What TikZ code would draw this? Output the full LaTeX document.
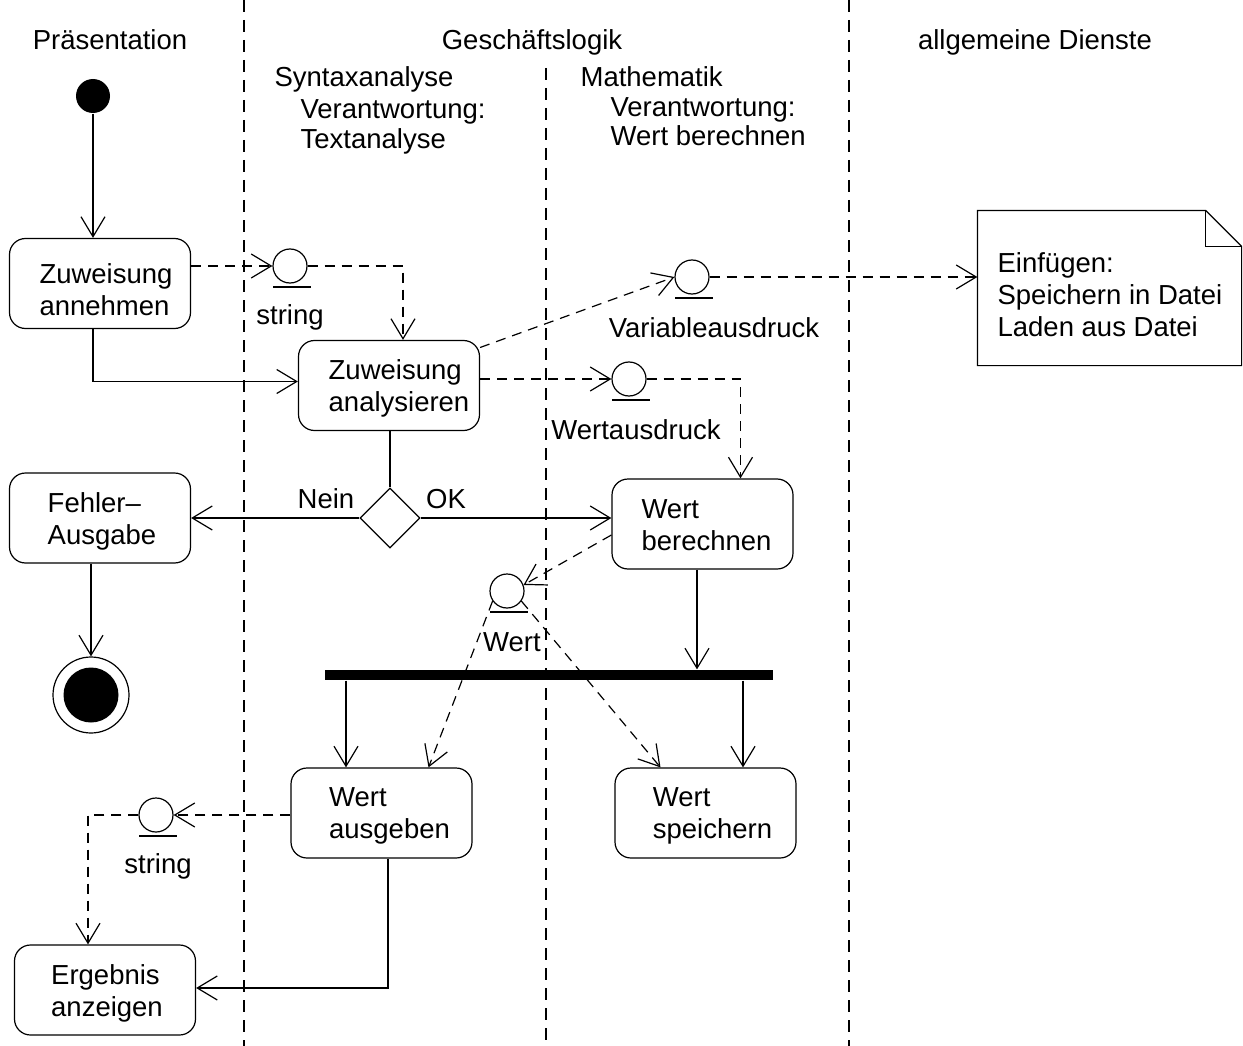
\documentclass[tikz,border=0pt]{standalone}
\usepackage{fontspec}
\setmainfont{Liberation Sans}
\usetikzlibrary{arrows.meta,calc,shapes.geometric}
\begin{document}
\begin{tikzpicture}[x=1pt,y=-1pt,
  font=\fontsize{27.5}{32}\selectfont,
  line width=1.2pt,
  tip/.style={-{Straight Barb[length=20pt,width=24pt,line width=1.2pt]}},
  dtip/.style={tip,dash pattern=on 10pt off 7pt},
  lane/.style={line width=1.1pt,dash pattern=on 12pt off 8pt},
  activity/.style={draw,rounded corners=16pt,minimum width=181pt,minimum height=90pt,inner sep=0pt},
  acttext/.style={align=left,inner sep=0pt},
  objnode/.style={draw,circle,minimum size=34pt,inner sep=0pt},
  txt/.style={inner sep=0pt}
]
\useasboundingbox (0,0) rectangle (1243,1046);

% swimlane separators
\draw[lane] (244,0) -- (244,1046);
\draw[lane] (546,68) -- (546,1046);
\draw[lane] (849,0) -- (849,1046);

% lane headings
\node[txt,anchor=base] (hpres) at (110,50) {Präsentation};
\node[txt,anchor=base] (hgesch) at (532,50) {Geschäftslogik};
\node[txt,anchor=base] (hdienst) at (1035,50) {allgemeine Dienste};
\node[txt,anchor=base west] (hsyn) at (274,87) {Syntaxanalyse};
\node[txt,anchor=base west] (hsyn2) at (300,119) {Verantwortung:};
\node[txt,anchor=base west] (hsyn3) at (300,149) {Textanalyse};
\node[txt,anchor=base west] (hmath) at (580,87) {Mathematik};
\node[txt,anchor=base west] (hmath2) at (610,117) {Verantwortung:};
\node[txt,anchor=base west] (hmath3) at (610,146) {Wert berechnen};

% initial and final nodes
\node[circle,fill=black,minimum size=34pt,inner sep=0pt] (start) at (93,96) {};
\node[circle,draw,minimum size=76pt,inner sep=0pt] (final) at (91,695) {};
\node[circle,fill=black,minimum size=55pt,inner sep=0pt] (finalin) at (91,695) {};

% activities (text block set slightly right of the box centre)
\node[activity,label={[acttext,xshift=6pt,yshift=-6pt]center:Zuweisung\\annehmen}] (anneh) at (100,283.5) {};
\node[activity,label={[acttext,xshift=10pt,yshift=-3pt]center:Zuweisung\\analysieren}] (analys) at (389,385.5) {};
\node[activity,label={[acttext,xshift=2pt,yshift=-3pt]center:Fehler–\\Ausgabe}] (fehler) at (100,518) {};
\node[activity,label={[acttext,xshift=4pt,yshift=-1pt]center:Wert\\berechnen}] (berech) at (702.5,524) {};
\node[activity,label={[acttext,xshift=8pt,yshift=-3pt]center:Wert\\ausgeben}] (ausgeb) at (381.5,813) {};
\node[activity,label={[acttext,xshift=7pt,yshift=-3pt]center:Wert\\speichern}] (speich) at (705.5,813) {};
\node[activity,label={[acttext,xshift=2pt,yshift=-3pt]center:Ergebnis\\anzeigen}] (ergeb) at (105,990) {};

% decision and fork bar
\node[diamond,draw,minimum width=60pt,minimum height=60pt,inner sep=0pt] (dec) at (390,518) {};
\node[fill=black,minimum width=448pt,minimum height=10pt,inner sep=0pt] (bar) at (549,675) {};

% object nodes with underlines and names
\node[objnode] (o1) at (290,266) {};
\node[objnode] (o2) at (692,277) {};
\node[objnode] (o3) at (629,379) {};
\node[objnode] (o4) at (507,591) {};
\node[objnode] (o5) at (156,815) {};
\foreach \o in {o1,o2,o3,o4,o5}
  \draw ($(\o.center)+(-17,21)$) -- ++(38,0);
\node[txt,anchor=base] (l1) at (290,324) {string};
\node[txt,anchor=base] (l2) at (714,337) {Variableausdruck};
\node[txt,anchor=base] (l3) at (636,439) {Wertausdruck};
\node[txt,anchor=base] (l4) at (512,651) {Wert};
\node[txt,anchor=base] (l5) at (158,873) {string};

% note
\node[minimum width=263pt,minimum height=154pt,inner sep=0pt] (note) at (1109.5,288) {};
\draw (note.north west) -- ([xshift=-36pt]note.north east) -- ([yshift=-36pt]note.north east)
  -- (note.south east) -- (note.south west) -- cycle;
\draw ([xshift=-36pt]note.north east) |- ([yshift=-36pt]note.north east);
\node[txt,anchor=west,align=left] (notetext) at (997,295) {Einfügen:\\Speichern in Datei\\Laden aus Datei};

% decision labels
\node[txt,anchor=base] (nein) at (326,508) {Nein};
\node[txt,anchor=base] (ok) at (446,508) {OK};

% control flow
\draw[tip] (start.south) -- (start.south |- anneh.north);
\draw[tip] (anneh.south -| start) |- ([yshift=4pt]analys.west);
\draw (analys.south -| dec) -- (dec.north);
\draw[tip] (dec.west) -- (fehler.east |- dec);
\draw[tip] (dec.east) -- (berech.west |- dec);
\draw[tip] (final |- fehler.south) -- (final.north);
\draw[tip] ([xshift=-5.5pt]berech.south) -- ([xshift=-5.5pt]berech.south |- bar.north);
\draw[tip] ([xshift=-35.5pt]ausgeb.north |- bar.south) -- ([xshift=-35.5pt]ausgeb.north);
\draw[tip] ([xshift=37.5pt]speich.north |- bar.south) -- ([xshift=37.5pt]speich.north);
\draw[tip] ([xshift=6.5pt]ausgeb.south) |- ([yshift=2pt]ergeb.east);

% object flow
\draw[dtip] (anneh.east |- o1) -- (o1.west);
\draw[dtip] (o1.east) -| ([xshift=14pt]analys.north);
\draw[dtip] ([yshift=38pt]analys.east) -- (o2.west);
\draw[dtip] (o2.east) -- (note.west |- o2);
\draw[dtip] (analys.east |- o3) -- (o3.west);
\draw[dtip] (o3.east) -| ([xshift=38pt]berech.north);
\draw[dtip] ([yshift=-11pt]berech.west) -- (o4.20);
\draw[dtip] (o4.215) -- ([xshift=47pt]ausgeb.north);
\draw[dtip] (o4.-35) -- ([xshift=-45pt]speich.north);
\draw[dtip] (ausgeb.west |- o5) -- (o5.east);
\draw[dtip] (o5.west) -| ([xshift=-17pt]ergeb.north);
\end{tikzpicture}
\end{document}
